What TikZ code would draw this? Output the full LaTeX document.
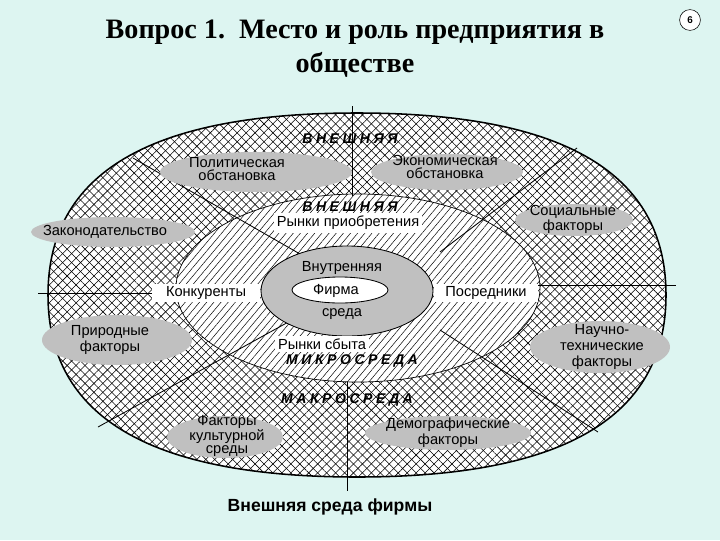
\documentclass[tikz,border=0pt]{standalone}
\usepackage{fontspec}
\setmainfont{Liberation Serif}
\setsansfont{Liberation Sans}
\newfontfamily\spacedsf[LetterSpace=25]{Liberation Sans}
\usetikzlibrary{patterns.meta,shapes.geometric}
\definecolor{bgcol}{RGB}{221,245,241}
\definecolor{silver}{RGB}{192,192,192}
\tikzset{
  title/.style={font=\bfseries\fontsize{20}{22}\selectfont, inner sep=0pt},
  pagenum/.style={circle, draw, fill=white, thin, minimum size=0.52cm, inner sep=0pt, font=\sffamily\bfseries\scriptsize},
  lbl/.style={font=\sffamily\fontsize{10.4}{9.2}\selectfont, inner sep=1pt, align=center},
  wlbl/.style={lbl, fill=white, inner sep=2pt},
  zone/.style={font=\spacedsf\bfseries\itshape\fontsize{10}{10}\selectfont, inner sep=0pt},
  caption/.style={font=\sffamily\bfseries\fontsize{12.5}{13}\selectfont, inner sep=0pt},
  divider/.style={line width=0.6pt},
  crosshatched/.style={fill=white,
    postaction={pattern={Lines[angle=45,distance=4.5pt,line width=.4pt]}},
    postaction={pattern={Lines[angle=-45,distance=4.5pt,line width=.4pt]}},
    postaction={draw, line width=1.1pt}},
  hatched/.style={fill=white,
    postaction={pattern={Lines[angle=50,distance=3.9pt,line width=.35pt]}},
    postaction={draw, line width=.5pt}},
}

\begin{document}
\begin{tikzpicture}[x=0.025cm, y=-0.025cm]
  \fill[bgcol] (0,0) rectangle (720,540);

  % --- Title ---
  \node[title] (t1) at (355,32) {Вопрос 1.~~Место и роль предприятия в};
  \node[title] (t2) at (355,65) {обществе};
  \node[pagenum] (pg) at (690,20) {6};

  % --- Outer ring: macro environment ---
  \path[crosshatched] (666,295) .. controls (666,173) and (564,113) .. (357,113)
    .. controls (150,113) and (48,173) .. (48,295)
    .. controls (48,417) and (150,477) .. (357,477)
    .. controls (564,477) and (666,417) .. (666,295) -- cycle;

  % --- Middle ring: micro environment ---
  \path[hatched] (358,288) ellipse [x radius=182, y radius=94];

  % Dividers
  \coordinate (vt1) at (352,106);  \coordinate (vt2) at (352,196);
  \coordinate (vb1) at (347,382);  \coordinate (vb2) at (347,491);
  \coordinate (hl1) at (38,293);   \coordinate (hl2) at (155,293);
  \coordinate (hr1) at (538,285);  \coordinate (hr2) at (676,285);
  \coordinate (ul1) at (133,158);  \coordinate (ul2) at (300,254);
  \coordinate (ur1) at (577,148);  \coordinate (ur2) at (440,252);
  \coordinate (ll1) at (98,427);   \coordinate (ll2) at (292,320);
  \coordinate (lr1) at (598,432);  \coordinate (lr2) at (440,330);
  \draw[divider] (vt1) -- (vt2);
  \draw[divider] (vb1) -- (vb2);
  \draw[divider] (hl1) -- (hl2);
  \draw[divider] (hr1) -- (hr2);
  \draw[divider] (ul1) -- (ul2);
  \draw[divider] (ur1) -- (ur2);
  \draw[divider] (ll1) -- (ll2);
  \draw[divider] (lr1) -- (lr2);

  % --- Inner: internal environment ---
  \draw[fill=silver, line width=.6pt] (347,291) ellipse [x radius=86, y radius=45];
  \draw[fill=white, line width=.6pt] (340,290) ellipse [x radius=48, y radius=13];
  \node[lbl] (vnutr) at (342,268) {Внутренняя};
  \node[lbl] (firma) at (336,291) {Фирма};
  \node[lbl] (sreda) at (342,314) {среда};

  % Macro factors
  \fill[silver] (256,172) ellipse [x radius=96, y radius=20];
  \fill[silver] (447,172) ellipse [x radius=76, y radius=18];
  \fill[silver] (574,220) ellipse [x radius=59, y radius=16];
  \fill[silver] (113,232) ellipse [x radius=82, y radius=15];
  \fill[silver] (117,340) ellipse [x radius=75, y radius=25];
  \fill[silver] (600,347) ellipse [x radius=70, y radius=26];
  \fill[silver] (225,437) ellipse [x radius=58, y radius=21];
  \fill[silver] (448,433) ellipse [x radius=83, y radius=17];
  \node[lbl] (polit) at (237,169) {Политическая\\обстановка};
  \node[lbl] (econ) at (445,167) {Экономическая\\обстановка};
  \node[lbl, font=\sffamily\fontsize{10.4}{8.6}\selectfont] (soc) at (573,219) {Социальные\\факторы};
  \node[lbl] (zakon) at (105,232) {Законодательство};
  \node[lbl, font=\sffamily\fontsize{10.4}{11.3}\selectfont] (prirod) at (110,340) {Природные\\факторы};
  \node[lbl, font=\sffamily\fontsize{10.4}{11.3}\selectfont] (nauch) at (602,347) {Научно-\\технические\\факторы};
  \node[lbl, font=\sffamily\fontsize{10.4}{9}\selectfont] (kult) at (227,436) {Факторы\\культурной\\среды};
  \node[lbl, font=\sffamily\fontsize{10.4}{11.3}\selectfont] (demogr) at (448,433) {Демографические\\факторы};

  % Micro factors
  \node[wlbl] (priob) at (348,223) {Рынки приобретения};
  \node[wlbl] (sbyt) at (322,344) {Рынки сбыта};
  \node[wlbl, minimum width=2.7cm] (konk) at (206,293) {Конкуренты};
  \node[wlbl, minimum width=2.6cm] (posr) at (486,293) {Посредники};

  % Zone names
  \node[zone] (vnesh1) at (350,139) {ВНЕШНЯЯ};
  \node[zone] (vnesh2) at (350,207) {ВНЕШНЯЯ};
  \node[zone] (mikro) at (352,361) {МИКРОСРЕДА};
  \node[zone] (makro) at (347,400) {МАКРОСРЕДА};

  \node[caption] (cap) at (330,507) {Внешняя среда фирмы};
\end{tikzpicture}
\end{document}
